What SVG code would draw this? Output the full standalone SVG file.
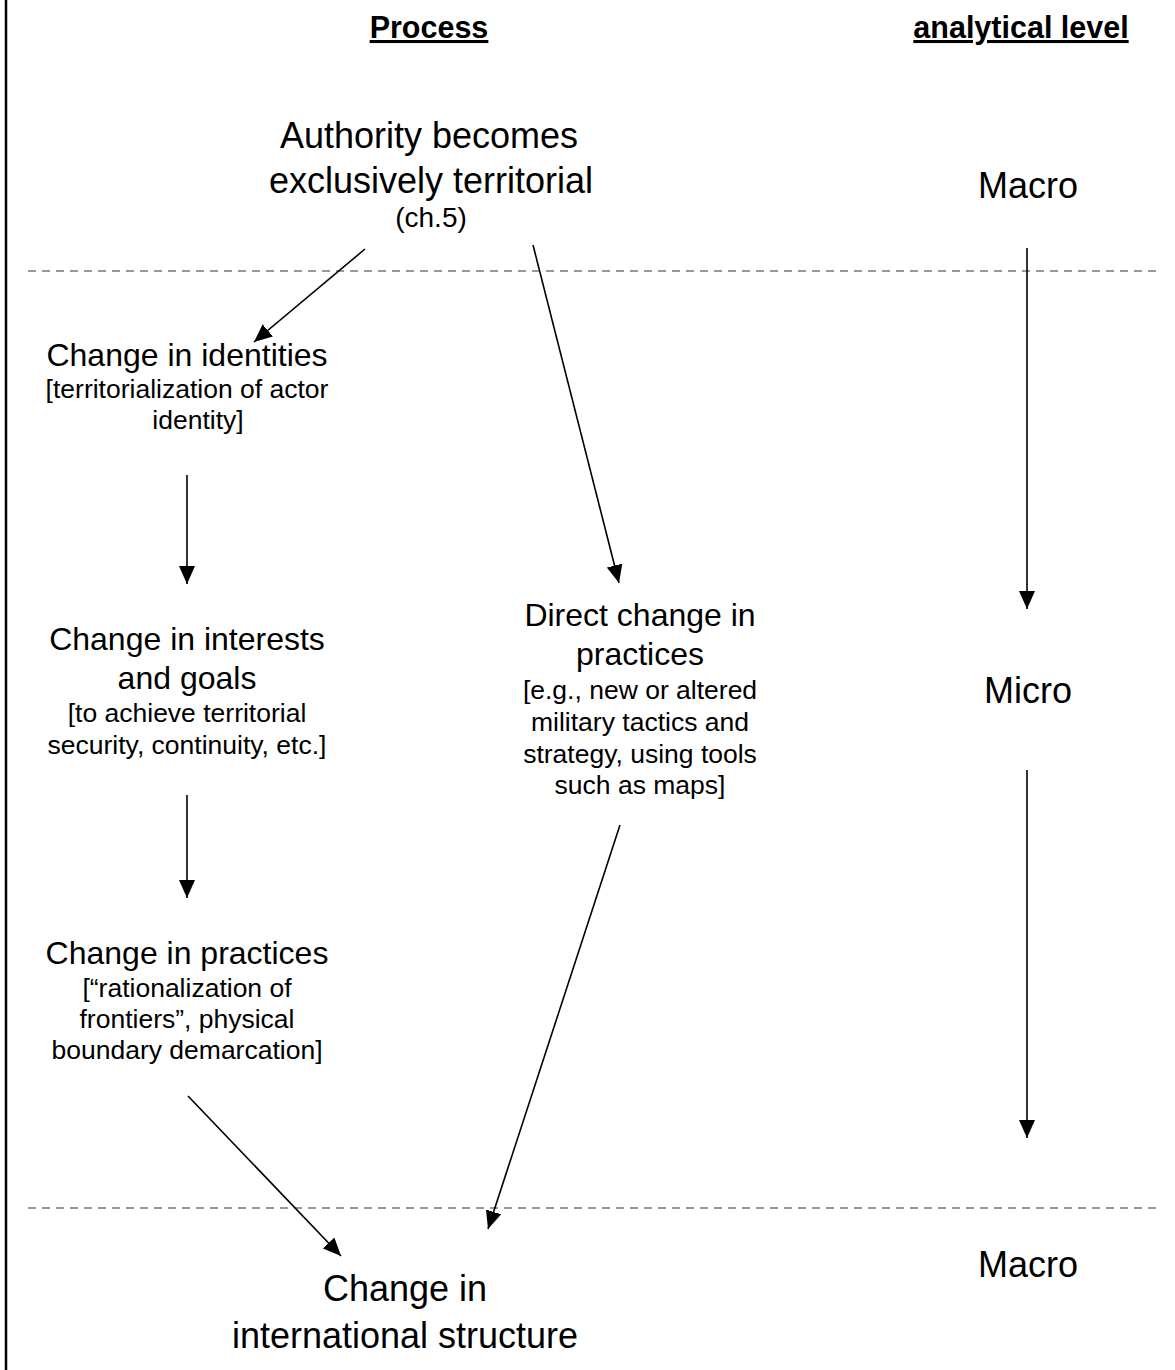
<svg xmlns="http://www.w3.org/2000/svg" width="1175" height="1370" viewBox="0 0 1175 1370">
<style>
text{font-family:"Liberation Sans",Arial,sans-serif;fill:#000;text-anchor:middle}
.h{font-size:30.5px;font-weight:bold;text-decoration:underline}
.xl{font-size:36px}
.l{font-size:32px}
.s{font-size:26.5px}
.p{font-size:28px}
.dash{stroke:#999;stroke-width:2;stroke-dasharray:8 6;fill:none}
.c{stroke:#000;stroke-width:1.6;fill:none;marker-end:url(#ah)}
</style>
<defs>
<marker id="ah" markerUnits="userSpaceOnUse" markerWidth="20" markerHeight="16" refX="18" refY="8" orient="auto">
<path d="M0,0 L18,8 L0,16 Z" fill="#000"/>
</marker>
</defs>
<rect width="1175" height="1370" fill="#fff"/>
<line x1="6" y1="0" x2="6" y2="1370" stroke="#000" stroke-width="2.5"/>
<g id="headers">
<text class="h" x="429" y="38">Process</text>
<text class="h" x="1021" y="38">analytical level</text>
</g>
<g id="separators">
<line class="dash" x1="28" y1="271" x2="1158" y2="271"/>
<line class="dash" x1="28" y1="1208" x2="1158" y2="1208"/>
</g>
<g id="node-authority">
<text class="xl" x="429" y="148">Authority becomes</text>
<text class="xl" x="431" y="193">exclusively territorial</text>
<text class="p" x="431" y="227">(ch.5)</text>
</g>
<g id="level-macro-top"><text class="xl" x="1028" y="198">Macro</text></g>
<g id="node-identities">
<text class="l" x="187" y="366">Change in identities</text>
<text class="s" x="187" y="398">[territorialization of actor</text>
<text class="s" x="198" y="429">identity]</text>
</g>
<g id="node-interests">
<text class="l" x="187" y="650">Change in interests</text>
<text class="l" x="187" y="689">and goals</text>
<text class="s" x="187" y="722">[to achieve territorial</text>
<text class="s" x="187" y="754">security, continuity, etc.]</text>
</g>
<g id="node-practices">
<text class="l" x="187" y="964">Change in practices</text>
<text class="s" x="187" y="997">[“rationalization of</text>
<text class="s" x="187" y="1028">frontiers”, physical</text>
<text class="s" x="187" y="1059">boundary demarcation]</text>
</g>
<g id="node-direct">
<text class="l" x="640" y="626">Direct change in</text>
<text class="l" x="640" y="665">practices</text>
<text class="s" x="640" y="699">[e.g., new or altered</text>
<text class="s" x="640" y="731">military tactics and</text>
<text class="s" x="640" y="763">strategy, using tools</text>
<text class="s" x="640" y="794">such as maps]</text>
</g>
<g id="level-micro"><text class="xl" x="1028" y="703">Micro</text></g>
<g id="level-macro-bottom"><text class="xl" x="1028" y="1277">Macro</text></g>
<g id="node-structure">
<text class="xl" x="405" y="1301">Change in</text>
<text class="xl" x="405" y="1348">international structure</text>
</g>
<g id="connectors">
<line class="c" x1="365" y1="249" x2="254" y2="342"/>
<line class="c" x1="533" y1="245" x2="619" y2="583"/>
<line class="c" x1="187" y1="475" x2="187" y2="584"/>
<line class="c" x1="187" y1="795" x2="187" y2="898"/>
<line class="c" x1="620" y1="825" x2="488" y2="1229"/>
<line class="c" x1="188" y1="1096" x2="341" y2="1256"/>
<line class="c" x1="1027" y1="248" x2="1027" y2="609"/>
<line class="c" x1="1027" y1="770" x2="1027" y2="1138"/>
</g>
</svg>
